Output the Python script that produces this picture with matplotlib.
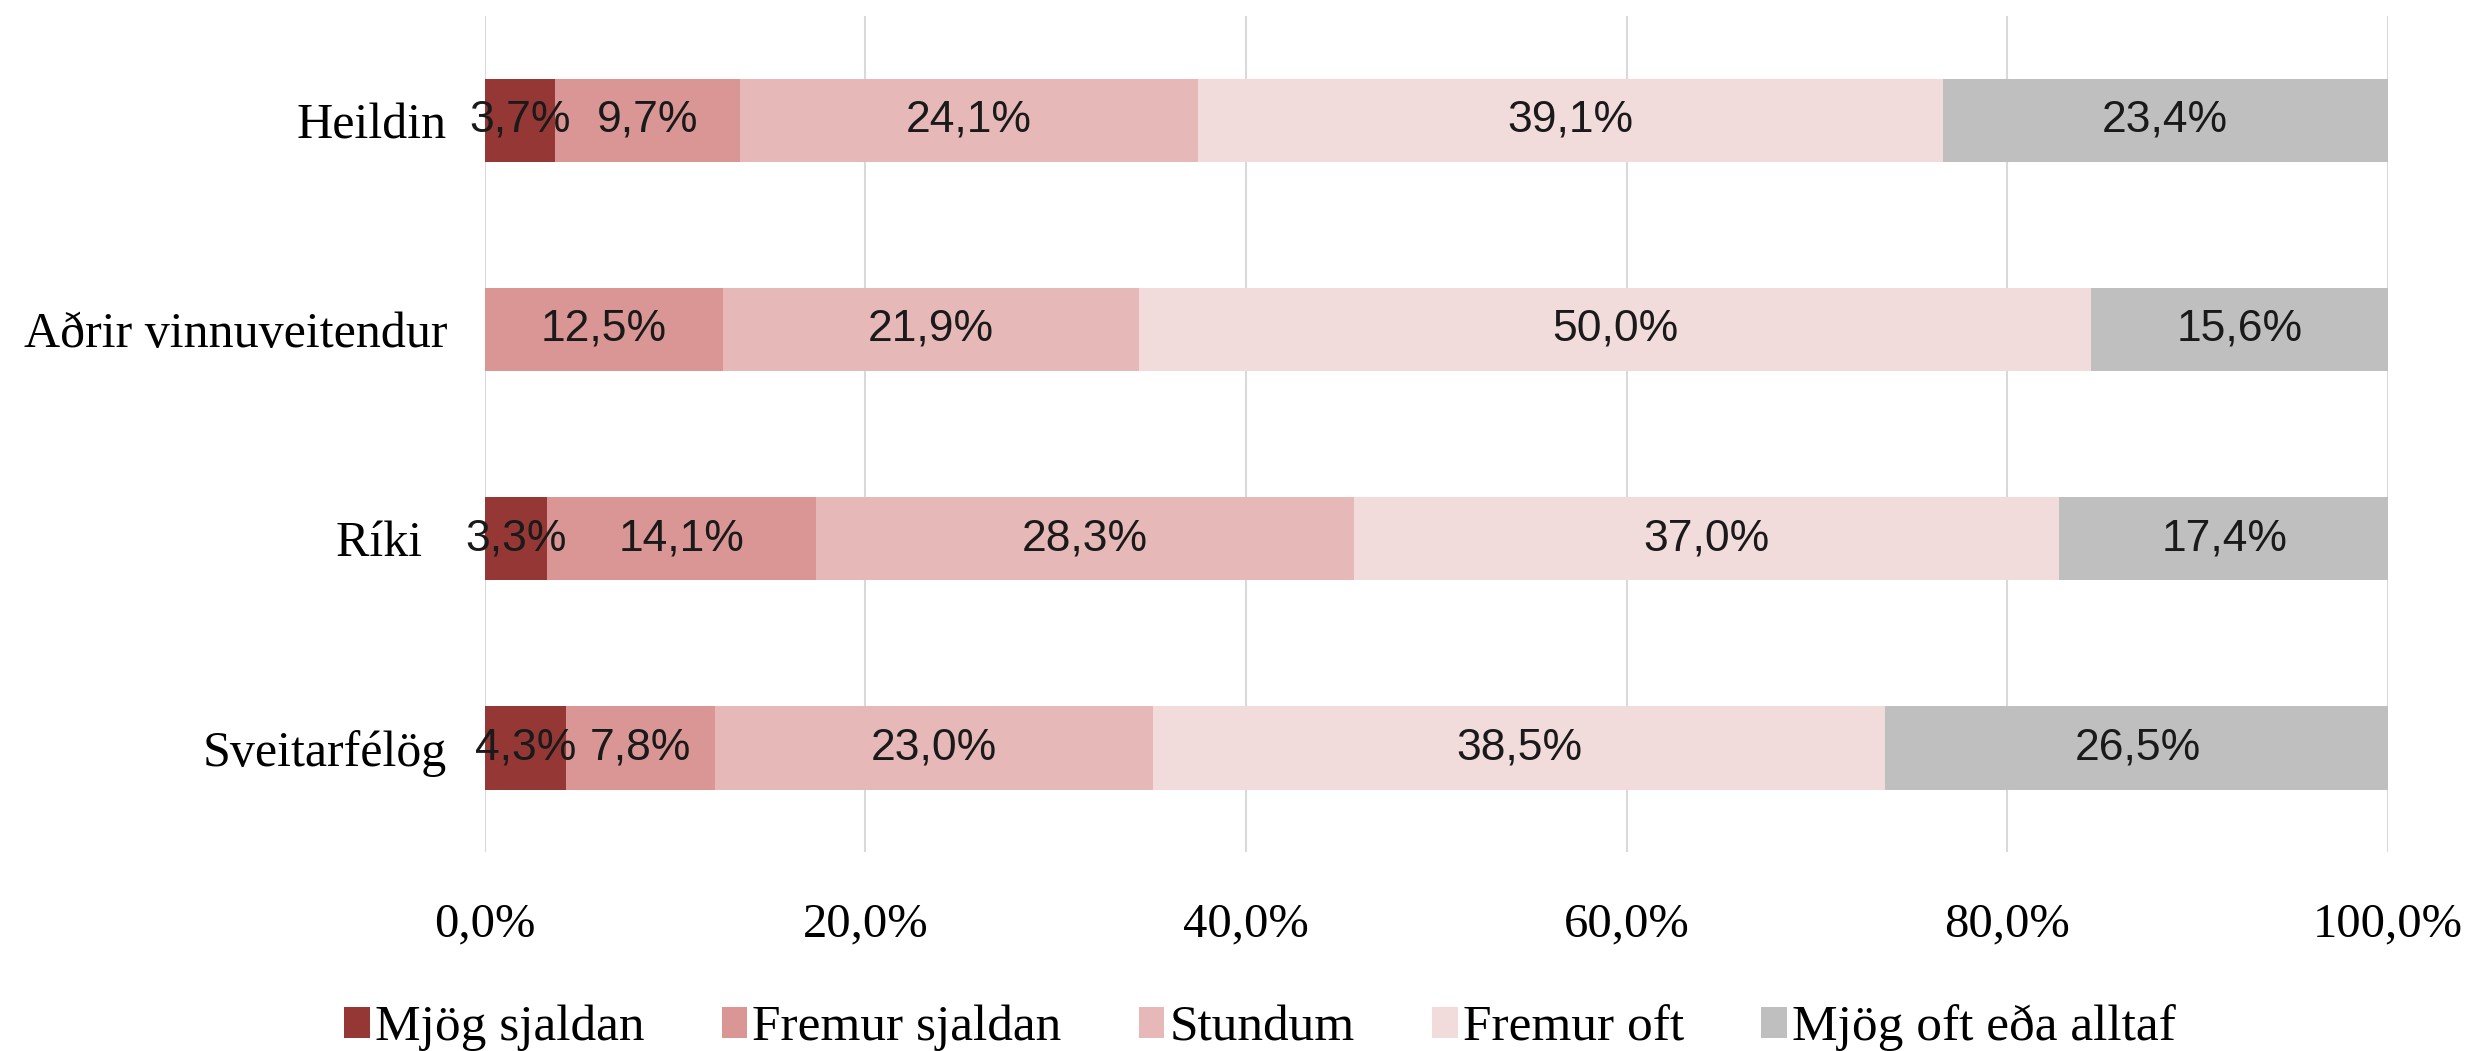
import numpy as np
import matplotlib.pyplot as plt

# categories, bottom to top
groups = ['Sveitarfélög', 'Ríki  ', 'Aðrir vinnuveitendur', 'Heildin']
answers = ['Mjög sjaldan', 'Fremur sjaldan', 'Stundum', 'Fremur oft', 'Mjög oft eða alltaf']

mjog_sjaldan = [4.3, 3.3, 0.0, 3.7]
fremur_sjaldan = [7.8, 14.1, 12.5, 9.7]
stundum = [23.0, 28.3, 21.9, 24.1]
fremur_oft = [38.5, 37.0, 50.0, 39.1]
mjog_oft = [26.5, 17.4, 15.6, 23.4]

series = [mjog_sjaldan, fremur_sjaldan, stundum, fremur_oft, mjog_oft]
colors = ['#953735', '#D99694', '#E6B9B8', '#F2DCDB', '#BFBFBF']

serif = 'Liberation Serif'
sans = 'Liberation Sans'

fig = plt.figure(figsize=(24.75, 10.51), dpi=100)
ax = fig.add_axes([0.1958, 0.189, 0.769, 0.796])

y = np.arange(len(groups))
left = np.zeros(len(groups))
for name, vals, col in zip(answers, series, colors):
    vals = np.array(vals)
    ax.barh(y, vals, left=left, height=0.4, color=col, label=name, zorder=2)
    for yi, l, v in zip(y, left, vals):
        if v > 0:
            ax.text(l + v / 2, yi, f'{v:.1f}%'.replace('.', ','), ha='center', va='center',
                    fontsize=32, family=sans, color='#1a1a1a', zorder=3)
    left += vals

ax.set_xlim(0, 100)
ax.set_ylim(-0.5, 3.5)
ax.set_xticks(np.arange(0, 101, 20))
ax.set_xticklabels([f'{t:.1f}%'.replace('.', ',') for t in np.arange(0, 101, 20)],
                   family=serif, fontsize=35)
ax.set_yticks(y)
ax.set_yticklabels(groups, family=serif, fontsize=36)
ax.tick_params(axis='both', length=0)
ax.tick_params(axis='x', pad=36)
ax.tick_params(axis='y', pad=27)
ax.grid(axis='x', color='#D9D9D9', linewidth=1.5, zorder=0)
ax.set_axisbelow(True)
for s in ax.spines.values():
    s.set_visible(False)

fig.legend(loc='center', bbox_to_anchor=(0.509, 0.022), ncol=5, frameon=False,
           prop={'family': serif, 'size': 37}, handlelength=0.5, handleheight=0.55,
           handletextpad=0.1, columnspacing=1.5)

plt.savefig('out.png', dpi=100)
